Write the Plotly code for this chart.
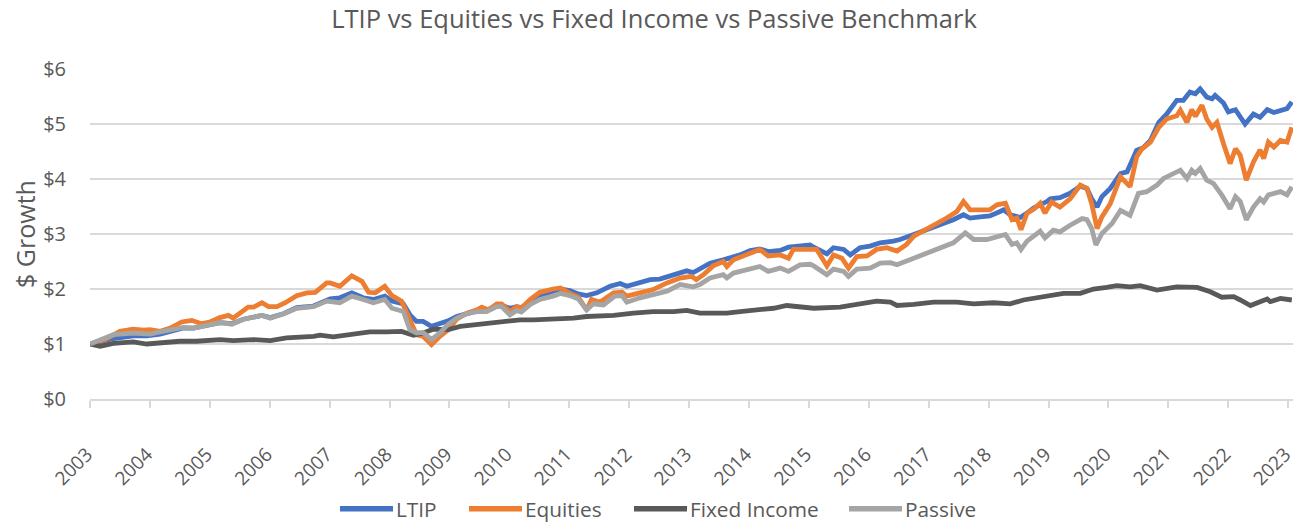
import plotly.graph_objects as go

# ---- data (decimal year, $ growth of $1) ----
ltip_x = [2003.00, 2003.17, 2003.39, 2003.72, 2003.95, 2004.17, 2004.34, 2004.56, 2004.73, 2005.00,
          2005.17, 2005.37, 2005.56, 2005.87, 2006.01, 2006.23, 2006.45, 2006.73, 2006.95, 2007.01,
          2007.17, 2007.37, 2007.56, 2007.73, 2007.92, 2008.04, 2008.23, 2008.34, 2008.45, 2008.56,
          2008.70, 2008.84, 2008.98, 2009.12, 2009.29, 2009.46, 2009.62, 2009.79, 2009.87, 2010.01,
          2010.12, 2010.20, 2010.35, 2010.51, 2010.73, 2010.85, 2011.01, 2011.15, 2011.29, 2011.46,
          2011.68, 2011.85, 2011.96, 2012.18, 2012.35, 2012.51, 2012.74, 2012.96, 2013.07, 2013.18,
          2013.35, 2013.57, 2013.68, 2013.85, 2014.02, 2014.18, 2014.32, 2014.52, 2014.66, 2014.85,
          2015.02, 2015.08, 2015.30, 2015.41, 2015.58, 2015.69, 2015.85, 2016.02, 2016.19, 2016.41,
          2016.52, 2016.75, 2016.97, 2017.19, 2017.41, 2017.58, 2017.69, 2017.86, 2018.02, 2018.19,
          2018.25, 2018.36, 2018.47, 2018.53, 2018.64, 2018.75, 2018.97, 2019.03, 2019.19, 2019.36,
          2019.53, 2019.64, 2019.72, 2019.81, 2019.89, 2020.03, 2020.20, 2020.31, 2020.47, 2020.58,
          2020.70, 2020.84, 2020.97, 2021.14, 2021.25, 2021.36, 2021.45, 2021.53, 2021.64, 2021.73,
          2021.78, 2021.92, 2022.00, 2022.12, 2022.28, 2022.42, 2022.53, 2022.65, 2022.76, 2022.87,
          2022.98, 2023.06]
ltip_y = [1.00, 1.05, 1.10, 1.15, 1.15, 1.18, 1.22, 1.29, 1.29, 1.35,
          1.39, 1.37, 1.45, 1.52, 1.48, 1.55, 1.66, 1.69, 1.80, 1.82,
          1.84, 1.93, 1.84, 1.81, 1.87, 1.78, 1.73, 1.53, 1.41, 1.41,
          1.32, 1.37, 1.42, 1.50, 1.56, 1.60, 1.61, 1.70, 1.70, 1.65,
          1.68, 1.66, 1.78, 1.88, 1.96, 2.00, 1.97, 1.91, 1.88, 1.93,
          2.05, 2.10, 2.05, 2.12, 2.17, 2.18, 2.26, 2.33, 2.30, 2.36,
          2.47, 2.53, 2.56, 2.62, 2.70, 2.73, 2.68, 2.70, 2.76, 2.79,
          2.80, 2.76, 2.64, 2.75, 2.72, 2.62, 2.75, 2.78, 2.84, 2.87,
          2.90, 2.99, 3.08, 3.15, 3.26, 3.35, 3.29, 3.31, 3.33, 3.41,
          3.44, 3.35, 3.33, 3.30, 3.38, 3.47, 3.59, 3.64, 3.66, 3.74,
          3.87, 3.83, 3.64, 3.49, 3.68, 3.83, 4.10, 4.13, 4.52, 4.57,
          4.70, 5.03, 5.18, 5.43, 5.43, 5.58, 5.55, 5.64, 5.49, 5.46,
          5.52, 5.38, 5.22, 5.26, 5.00, 5.18, 5.12, 5.26, 5.21, 5.24,
          5.28, 5.40]

eq_x = [2003.00, 2003.25, 2003.50, 2003.72, 2003.89, 2004.00, 2004.17, 2004.34, 2004.53, 2004.70,
        2004.86, 2005.00, 2005.17, 2005.31, 2005.39, 2005.50, 2005.64, 2005.73, 2005.87, 2005.98,
        2006.12, 2006.26, 2006.45, 2006.62, 2006.76, 2006.95, 2007.01, 2007.17, 2007.37, 2007.54,
        2007.65, 2007.76, 2007.92, 2008.04, 2008.20, 2008.34, 2008.45, 2008.56, 2008.70, 2008.84,
        2008.98, 2009.12, 2009.29, 2009.46, 2009.54, 2009.65, 2009.79, 2009.87, 2010.01, 2010.12,
        2010.20, 2010.35, 2010.51, 2010.73, 2010.85, 2011.01, 2011.15, 2011.29, 2011.37, 2011.51,
        2011.74, 2011.88, 2011.96, 2012.18, 2012.40, 2012.63, 2012.85, 2013.04, 2013.12, 2013.24,
        2013.40, 2013.57, 2013.63, 2013.74, 2013.96, 2014.07, 2014.18, 2014.32, 2014.52, 2014.66,
        2014.74, 2014.85, 2015.02, 2015.13, 2015.30, 2015.41, 2015.55, 2015.66, 2015.80, 2015.97,
        2016.13, 2016.30, 2016.47, 2016.63, 2016.75, 2016.91, 2017.14, 2017.30, 2017.47, 2017.58,
        2017.69, 2017.86, 2018.02, 2018.14, 2018.28, 2018.39, 2018.47, 2018.54, 2018.64, 2018.75,
        2018.86, 2018.94, 2019.05, 2019.19, 2019.36, 2019.53, 2019.64, 2019.72, 2019.81, 2019.89,
        2020.03, 2020.20, 2020.36, 2020.47, 2020.56, 2020.70, 2020.84, 2020.97, 2021.14, 2021.20,
        2021.31, 2021.39, 2021.45, 2021.56, 2021.64, 2021.73, 2021.81, 2021.92, 2022.03, 2022.12,
        2022.20, 2022.30, 2022.42, 2022.53, 2022.59, 2022.67, 2022.76, 2022.87, 2022.98, 2023.06]
eq_y = [1.00, 1.08, 1.23, 1.27, 1.25, 1.26, 1.23, 1.29, 1.40, 1.43,
        1.37, 1.40, 1.48, 1.52, 1.47, 1.56, 1.67, 1.67, 1.75, 1.68,
        1.68, 1.75, 1.88, 1.93, 1.94, 2.11, 2.11, 2.05, 2.24, 2.14,
        1.94, 1.93, 2.05, 1.88, 1.78, 1.44, 1.17, 1.14, 0.99, 1.14,
        1.26, 1.45, 1.56, 1.62, 1.67, 1.62, 1.73, 1.73, 1.59, 1.68,
        1.65, 1.81, 1.94, 2.00, 2.02, 1.92, 1.85, 1.62, 1.81, 1.76,
        1.93, 1.94, 1.87, 1.93, 1.99, 2.11, 2.20, 2.23, 2.17, 2.26,
        2.42, 2.50, 2.41, 2.53, 2.62, 2.66, 2.72, 2.60, 2.62, 2.56,
        2.72, 2.72, 2.72, 2.72, 2.42, 2.62, 2.56, 2.38, 2.59, 2.60,
        2.72, 2.75, 2.69, 2.81, 2.96, 3.05, 3.19, 3.29, 3.41, 3.59,
        3.44, 3.45, 3.44, 3.53, 3.56, 3.26, 3.29, 3.08, 3.38, 3.45,
        3.56, 3.38, 3.58, 3.49, 3.64, 3.89, 3.83, 3.55, 3.10, 3.31,
        3.55, 4.04, 3.86, 4.40, 4.55, 4.67, 4.94, 5.09, 5.15, 5.25,
        5.03, 5.26, 5.14, 5.34, 5.09, 4.94, 5.03, 4.64, 4.28, 4.55,
        4.43, 3.98, 4.31, 4.53, 4.37, 4.67, 4.58, 4.70, 4.67, 4.94]

fi_x = [2003.00, 2003.17, 2003.39, 2003.72, 2003.95, 2004.17, 2004.50, 2004.78, 2005.17, 2005.39,
        2005.73, 2006.01, 2006.28, 2006.73, 2006.84, 2007.06, 2007.40, 2007.67, 2007.95, 2008.20,
        2008.40, 2008.56, 2008.73, 2008.98, 2009.18, 2009.46, 2009.73, 2010.01, 2010.18, 2010.40,
        2010.73, 2010.85, 2011.07, 2011.29, 2011.74, 2012.07, 2012.40, 2012.74, 2012.96, 2013.18,
        2013.40, 2013.63, 2013.85, 2014.18, 2014.41, 2014.63, 2014.85, 2015.08, 2015.52, 2015.85,
        2016.13, 2016.36, 2016.47, 2016.75, 2017.08, 2017.47, 2017.75, 2018.08, 2018.36, 2018.58,
        2018.86, 2019.03, 2019.25, 2019.53, 2019.75, 2019.97, 2020.14, 2020.36, 2020.53, 2020.81,
        2021.14, 2021.48, 2021.70, 2021.89, 2022.09, 2022.20, 2022.37, 2022.53, 2022.65, 2022.70,
        2022.87, 2023.06]
fi_y = [1.00, 0.96, 1.01, 1.04, 1.00, 1.02, 1.05, 1.05, 1.08, 1.06,
        1.08, 1.06, 1.11, 1.14, 1.16, 1.13, 1.17, 1.22, 1.22, 1.23,
        1.16, 1.20, 1.27, 1.26, 1.32, 1.35, 1.38, 1.42, 1.44, 1.44,
        1.45, 1.45, 1.47, 1.50, 1.52, 1.56, 1.59, 1.59, 1.61, 1.56,
        1.55, 1.56, 1.59, 1.62, 1.65, 1.70, 1.68, 1.65, 1.67, 1.72,
        1.78, 1.76, 1.70, 1.72, 1.76, 1.76, 1.73, 1.75, 1.73, 1.80,
        1.85, 1.86, 1.92, 1.92, 2.00, 2.03, 2.06, 2.04, 2.06, 1.98,
        2.04, 2.03, 1.95, 1.85, 1.86, 1.80, 1.70, 1.77, 1.82, 1.77,
        1.83, 1.80]

pas_x = [2003.00, 2003.39, 2003.72, 2004.00, 2004.17, 2004.34, 2004.56, 2004.73, 2005.00, 2005.17,
         2005.37, 2005.56, 2005.87, 2006.01, 2006.23, 2006.45, 2006.73, 2006.95, 2007.17, 2007.37,
         2007.56, 2007.73, 2007.92, 2008.04, 2008.23, 2008.34, 2008.45, 2008.56, 2008.70, 2008.84,
         2008.98, 2009.12, 2009.29, 2009.46, 2009.62, 2009.79, 2009.87, 2010.01, 2010.12, 2010.20,
         2010.35, 2010.51, 2010.73, 2010.85, 2011.01, 2011.15, 2011.29, 2011.40, 2011.57, 2011.76,
         2011.88, 2011.96, 2012.18, 2012.40, 2012.63, 2012.85, 2013.07, 2013.18, 2013.35, 2013.57,
         2013.63, 2013.74, 2013.96, 2014.18, 2014.32, 2014.52, 2014.66, 2014.85, 2015.02, 2015.08,
         2015.30, 2015.41, 2015.58, 2015.66, 2015.80, 2016.02, 2016.19, 2016.36, 2016.47, 2016.75,
         2016.97, 2017.19, 2017.41, 2017.61, 2017.75, 2017.97, 2018.14, 2018.28, 2018.39, 2018.47,
         2018.54, 2018.64, 2018.86, 2018.94, 2019.08, 2019.19, 2019.36, 2019.56, 2019.64, 2019.72,
         2019.79, 2019.89, 2020.06, 2020.20, 2020.36, 2020.50, 2020.64, 2020.81, 2020.92, 2021.09,
         2021.20, 2021.31, 2021.39, 2021.45, 2021.53, 2021.64, 2021.75, 2021.89, 2022.03, 2022.12,
         2022.20, 2022.30, 2022.42, 2022.53, 2022.59, 2022.67, 2022.87, 2022.98, 2023.06]
pas_y = [1.00, 1.17, 1.20, 1.18, 1.22, 1.26, 1.30, 1.29, 1.35, 1.39,
         1.36, 1.45, 1.52, 1.47, 1.55, 1.65, 1.68, 1.78, 1.75, 1.87,
         1.81, 1.75, 1.81, 1.65, 1.59, 1.26, 1.20, 1.21, 1.08, 1.20,
         1.36, 1.47, 1.55, 1.59, 1.59, 1.68, 1.68, 1.53, 1.61, 1.58,
         1.72, 1.81, 1.87, 1.92, 1.88, 1.82, 1.62, 1.73, 1.71, 1.87,
         1.88, 1.76, 1.84, 1.90, 1.96, 2.08, 2.04, 2.08, 2.20, 2.26,
         2.20, 2.29, 2.35, 2.41, 2.32, 2.38, 2.32, 2.44, 2.45, 2.42,
         2.26, 2.36, 2.32, 2.23, 2.36, 2.38, 2.47, 2.48, 2.44, 2.56,
         2.65, 2.75, 2.84, 3.02, 2.90, 2.90, 2.96, 2.99, 2.81, 2.84,
         2.72, 2.87, 3.05, 2.93, 3.07, 3.04, 3.16, 3.28, 3.26, 3.10,
         2.80, 3.01, 3.19, 3.43, 3.34, 3.74, 3.77, 3.89, 4.01, 4.10,
         4.16, 4.01, 4.16, 4.10, 4.19, 3.98, 3.92, 3.71, 3.46, 3.68,
         3.59, 3.26, 3.49, 3.64, 3.58, 3.71, 3.77, 3.71, 3.86]

series_names = ["LTIP", "Equities", "Fixed Income", "Passive"]
series_colors = ["#4472C4", "#ED7D31", "#595959", "#A5A5A5"]
year_ticks = list(range(2003, 2024))
dollar_ticks = [0, 1, 2, 3, 4, 5, 6]

FONT = "Open Sans"
TXT = "#595959"

# ---- layout geometry ----
# The page body has an 8px default margin, so the figure is made 8px smaller
# and every page position is converted by subtracting that offset.
OFF = 8
W, H = 1305 - OFF, 525 - OFF
ML, MR = 90 - OFF, 12
MT, MB = 69.3 - OFF, 525 - 399.3
PW, PH = W - ML - MR, H - MT - MB
LEG_Y = 509                        # legend row centre (page px)
LEG_SYM_X0 = [340, 469, 634, 849]  # legend line starts (page px)
SYM_LEN = 53
TEXT_GAP = 2


def px_x(px):
    return (px - OFF - ML) / PW


def px_y(py):
    return (H - MB - (py - OFF)) / PH


fig = go.Figure()
for name, xs, ys, col in zip(series_names,
                             [ltip_x, eq_x, fi_x, pas_x],
                             [ltip_y, eq_y, fi_y, pas_y],
                             series_colors):
    fig.add_trace(go.Scatter(x=xs, y=ys, mode="lines", name=name,
                             line=dict(color=col, width=4.8, shape="linear"),
                             hoverinfo="skip", showlegend=False))

# legend drawn as line shapes + text, laid out like the reference
for name, col, x0 in zip(series_names, series_colors, LEG_SYM_X0):
    fig.add_shape(type="line", xref="paper", yref="paper",
                  x0=px_x(x0), x1=px_x(x0 + SYM_LEN), y0=px_y(LEG_Y), y1=px_y(LEG_Y),
                  line=dict(color=col, width=5.5))
    fig.add_annotation(text=name, xref="paper", yref="paper",
                       x=px_x(x0 + SYM_LEN + TEXT_GAP), y=px_y(LEG_Y),
                       xanchor="left", yanchor="middle", showarrow=False,
                       borderpad=0,
                       font=dict(family=FONT, size=20.8, color=TXT))

fig.update_layout(
    width=W, height=H,
    paper_bgcolor="white", plot_bgcolor="white",
    margin=dict(l=ML, r=MR, t=MT, b=MB, autoexpand=False),
    font=dict(family=FONT, color=TXT),
    title=dict(text="LTIP vs Equities vs Fixed Income vs Passive Benchmark",
               x=(654 - OFF) / W, xref="container", xanchor="center",
               y=1 - (19.5 - OFF) / H, yref="container", yanchor="middle",
               font=dict(family=FONT, size=25.5, color=TXT)),
    showlegend=False,
)
fig.update_xaxes(
    type="linear", range=[2003, 2023.08], automargin=False,
    tickmode="array", tickvals=year_ticks, ticktext=[str(y) for y in year_ticks],
    tickangle=-45, tickfont=dict(family=FONT, size=19, color=TXT),
    ticklabelstandoff=28, ticklabelshift=-3,
    showgrid=False, zeroline=False,
    showline=True, linecolor="#D9D9D9", linewidth=1.5,
    ticks="outside", ticklen=7, tickcolor="#D9D9D9", tickwidth=1.5,
)
fig.update_yaxes(
    range=[0, 6], tickmode="array", tickvals=dollar_ticks, automargin=False,
    ticktext=["$" + str(v) for v in dollar_ticks],
    tickfont=dict(family=FONT, size=20, color=TXT),
    showgrid=True, gridcolor="#D9D9D9", gridwidth=1.5,
    zeroline=False, showline=False, ticks="", ticklabelstandoff=23,
    title=dict(text="$ Growth", font=dict(family=FONT, size=25, color=TXT), standoff=42),
)

fig.write_html("out.html")
